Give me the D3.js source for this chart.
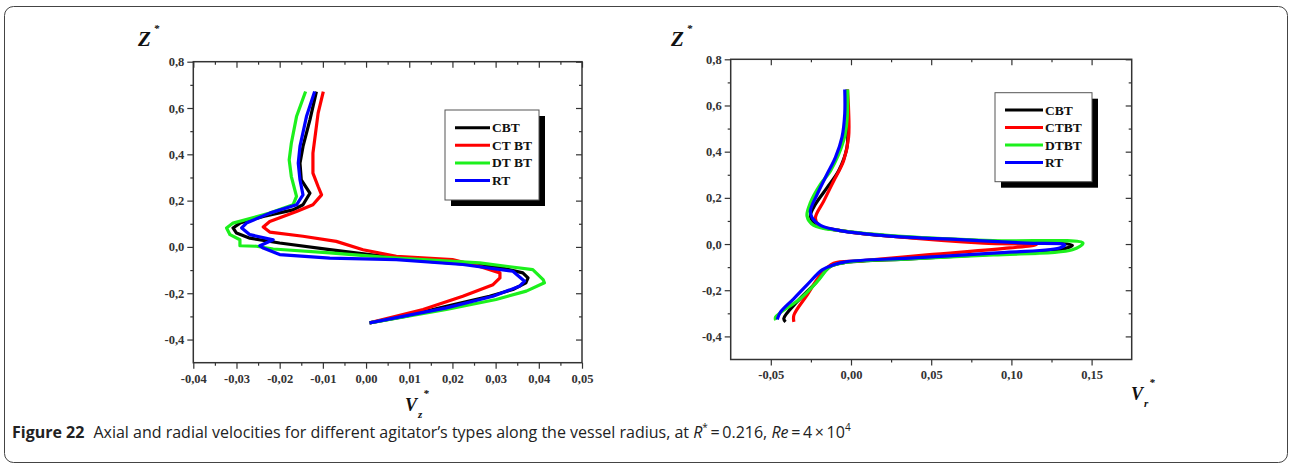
<!DOCTYPE html>
<html lang="en">
<head>
    <meta charset="utf-8">
    <script type="text/javascript" src="https://d3js.org/d3.v7.min.js"></script>
</head>
<style>
    body { margin: 0; background: #fff; }
    .tick text { font-family: "Liberation Serif", serif; font-weight: bold; font-size: 12.5px; fill: #333; }
    .tick line { stroke: #333; }
    .lg { font-family: "Liberation Serif", serif; font-weight: bold; font-size: 13.5px; fill: #111; }
</style>
<body>
<div id="chart"></div>
<script type="text/javascript">
  // series names
  const seriesNames = ["CBT", "CTBT", "DTBT", "RT"];
  const seriesColors = ["#000000", "#ff0000", "#1cf01c", "#0000ff"];
  const legendLeft = ["CBT", "CT BT", "DT BT", "RT"];
  const legendRight = ["CBT", "CTBT", "DTBT", "RT"];

  // axial velocity Vz* (left panel), pairs [Vz, Z]
  const vzCBT = [[-0.0115,0.671],[-0.013,0.549],[-0.0146,0.434],[-0.0153,0.362],[-0.015,0.29],[-0.013,0.232],[-0.0146,0.182],[-0.0169,0.16],[-0.0238,0.132],[-0.0292,0.103],[-0.0308,0.082],[-0.030,0.06],[-0.0269,0.038],[-0.020,0.017],[-0.0084,-0.012],[0.0008,-0.033],[0.0147,-0.062],[0.030,-0.084],[0.0363,-0.112],[0.0375,-0.134],[0.037,-0.155],[0.034,-0.184],[0.0286,-0.213],[0.0186,-0.256],[0.0093,-0.299],[0.0008,-0.328]];
  const vzCTBT = [[-0.0099,0.671],[-0.0111,0.578],[-0.0123,0.405],[-0.0123,0.319],[-0.0111,0.261],[-0.0103,0.225],[-0.0123,0.182],[-0.0161,0.153],[-0.0223,0.110],[-0.0238,0.086],[-0.0223,0.064],[-0.0146,0.046],[-0.0069,0.024],[-0.0007,-0.012],[0.007,-0.041],[0.020,-0.055],[0.0263,-0.084],[0.031,-0.112],[0.031,-0.134],[0.0294,-0.163],[0.0224,-0.213],[0.0132,-0.270],[0.0008,-0.328]];
  const vzDTBT = [[-0.014,0.671],[-0.0161,0.563],[-0.0173,0.448],[-0.0178,0.376],[-0.0173,0.304],[-0.0161,0.218],[-0.0169,0.182],[-0.0223,0.146],[-0.0308,0.103],[-0.0323,0.082],[-0.0315,0.053],[-0.0292,0.031],[-0.0292,0.005],[-0.0254,0.003],[-0.0215,-0.009],[-0.0084,-0.026],[0.007,-0.048],[0.0263,-0.069],[0.0386,-0.098],[0.041,-0.141],[0.0413,-0.155],[0.0371,-0.191],[0.0301,-0.227],[0.0186,-0.270],[0.0008,-0.328]];
  const vzRT = [[-0.0119,0.671],[-0.0138,0.563],[-0.0153,0.434],[-0.0157,0.362],[-0.0153,0.290],[-0.0146,0.225],[-0.0161,0.182],[-0.0223,0.146],[-0.0277,0.103],[-0.0288,0.082],[-0.0269,0.053],[-0.0215,0.031],[-0.0246,0.005],[-0.0238,-0.005],[-0.020,-0.033],[-0.0084,-0.048],[0.007,-0.055],[0.0224,-0.076],[0.034,-0.105],[0.0367,-0.148],[0.0355,-0.170],[0.0294,-0.213],[0.0186,-0.263],[0.0008,-0.328]];

  // radial velocity Vr* (right panel), pairs [Vr, Z]
  const vrCBT = [[-0.0025,0.669],[-0.0021,0.535],[-0.0025,0.419],[-0.0077,0.317],[-0.0149,0.244],[-0.0222,0.172],[-0.0253,0.121],[-0.0211,0.081],[-0.0066,0.058],[0.0265,0.033],[0.0887,0.012],[0.138,-0.006],[0.130,-0.025],[0.0887,-0.044],[0.0369,-0.064],[-0.0025,-0.079],[-0.0128,-0.097],[-0.0232,-0.177],[-0.0336,-0.250],[-0.0419,-0.323],[-0.0408,-0.337]];
  const vrCTBT = [[-0.0022,0.669],[-0.0015,0.579],[-0.0015,0.463],[-0.0046,0.361],[-0.0108,0.273],[-0.017,0.186],[-0.0222,0.113],[-0.0201,0.081],[-0.0066,0.058],[0.0265,0.033],[0.0825,0.004],[0.1156,-0.003],[0.099,-0.017],[0.0472,-0.047],[0.0058,-0.073],[-0.0108,-0.083],[-0.0191,-0.134],[-0.0274,-0.221],[-0.0356,-0.308],[-0.0356,-0.337]];
  const vrDTBT = [[-0.0021,0.669],[-0.0025,0.535],[-0.0046,0.448],[-0.0128,0.317],[-0.019,0.259],[-0.0253,0.179],[-0.0274,0.121],[-0.0232,0.081],[-0.0066,0.058],[0.0265,0.036],[0.0887,0.015],[0.1446,0.004],[0.138,-0.025],[0.0887,-0.047],[0.0369,-0.064],[-0.0025,-0.079],[-0.0128,-0.097],[-0.0211,-0.163],[-0.0315,-0.236],[-0.047,-0.316],[-0.047,-0.330]];
  const vrRT = [[-0.0039,0.669],[-0.0039,0.564],[-0.0056,0.463],[-0.0097,0.375],[-0.0149,0.303],[-0.0211,0.215],[-0.0253,0.143],[-0.0242,0.113],[-0.019,0.081],[-0.0066,0.058],[0.0265,0.033],[0.068,0.019],[0.1094,0.004],[0.1332,-0.003],[0.130,-0.017],[0.0887,-0.039],[0.0369,-0.061],[-0.0025,-0.076],[-0.0108,-0.090],[-0.018,-0.112],[-0.0274,-0.177],[-0.0356,-0.236],[-0.0439,-0.294],[-0.046,-0.327]];

  // tick values
  const zMajor = [-0.4, -0.2, 0.0, 0.2, 0.4, 0.6, 0.8];
  const zMinor = [-0.3, -0.1, 0.1, 0.3, 0.5, 0.7];
  const vzMajor = [-0.04, -0.03, -0.02, -0.01, 0.00, 0.01, 0.02, 0.03, 0.04, 0.05];
  const vzMinor = [-0.035, -0.025, -0.015, -0.005, 0.005, 0.015, 0.025, 0.035, 0.045];
  const vrMajor = [-0.05, 0.00, 0.05, 0.10, 0.15];
  const vrMinor = [-0.025, 0.025, 0.075, 0.125];

  const W = 1290, H = 465;
  const svg = d3.select("#chart").append("svg")
    .attr("width", W).attr("height", H)
    .style("font-family", "Liberation Serif, serif");

  // outer frame
  svg.append("rect")
    .attr("x", 4.5).attr("y", 6.5).attr("width", 1283).attr("height", 456)
    .attr("rx", 9).attr("fill", "none").attr("stroke", "#444").attr("stroke-width", 1);

  const comma = (v, n) => (v < -1e-9 ? "-" : "") + Math.abs(v).toFixed(n).replace(".", ",");

  function panel(opt) {
    const x = d3.scaleLinear().domain(opt.xDomain).range([opt.left, opt.right]);
    const y = d3.scaleLinear().domain([-0.5, 0.8]).range([opt.bottom, opt.top]);
    const g = svg.append("g");

    // axes: outward ticks on left and bottom
    g.append("g").attr("transform", `translate(${opt.left},0)`)
      .call(d3.axisLeft(y).tickValues(zMajor).tickSize(6).tickPadding(3).tickFormat(d => comma(d, 1)))
      .call(a => a.select(".domain").remove());
    g.append("g").attr("transform", `translate(${opt.left},0)`)
      .call(d3.axisLeft(y).tickValues(zMinor).tickSize(3).tickFormat(""))
      .call(a => a.select(".domain").remove());
    g.append("g").attr("transform", `translate(0,${opt.bottom})`)
      .call(d3.axisBottom(x).tickValues(opt.xMajor).tickSize(6).tickPadding(5).tickFormat(d => comma(d, 2)))
      .call(a => a.select(".domain").remove());
    g.append("g").attr("transform", `translate(0,${opt.bottom})`)
      .call(d3.axisBottom(x).tickValues(opt.xMinor).tickSize(3).tickFormat(""))
      .call(a => a.select(".domain").remove());
    // inward ticks on top and right
    g.append("g").attr("transform", `translate(${opt.right},0)`)
      .call(d3.axisRight(y).tickValues(zMajor).tickSize(-6).tickFormat(""))
      .call(a => a.select(".domain").remove());
    g.append("g").attr("transform", `translate(${opt.right},0)`)
      .call(d3.axisRight(y).tickValues(zMinor).tickSize(-3).tickFormat(""))
      .call(a => a.select(".domain").remove());
    g.append("g").attr("transform", `translate(0,${opt.top})`)
      .call(d3.axisTop(x).tickValues(opt.xMajor).tickSize(-6).tickFormat(""))
      .call(a => a.select(".domain").remove());
    g.append("g").attr("transform", `translate(0,${opt.top})`)
      .call(d3.axisTop(x).tickValues(opt.xMinor).tickSize(-3).tickFormat(""))
      .call(a => a.select(".domain").remove());

    g.selectAll(".tick line").attr("stroke", "#333").attr("stroke-width", 1.2);

    g.append("rect")
      .attr("x", opt.left).attr("y", opt.top)
      .attr("width", opt.right - opt.left).attr("height", opt.bottom - opt.top)
      .attr("fill", "none").attr("stroke", "#333").attr("stroke-width", 1.5);

    // curves
    const line = d3.line().x(d => x(d[0])).y(d => y(d[1])).curve(opt.curve);
    opt.series.forEach((s, i) => {
      g.append("path").datum(s)
        .attr("fill", "none")
        .attr("stroke", seriesColors[i])
        .attr("stroke-width", 3.2)
        .attr("stroke-linejoin", "round")
        .attr("d", line);
    });

    // legend
    const L = opt.legend;
    g.append("rect").attr("x", L.x + 6).attr("y", L.y + 6).attr("width", L.w).attr("height", L.h).attr("fill", "#000");
    g.append("rect").attr("x", L.x).attr("y", L.y).attr("width", L.w).attr("height", L.h)
      .attr("fill", "#fff").attr("stroke", "#555").attr("stroke-width", 1);
    L.labels.forEach((t, i) => {
      const yy = L.y + L.first + i * L.step;
      g.append("line").attr("x1", L.x + 10).attr("x2", L.x + 10 + L.len)
        .attr("y1", yy).attr("y2", yy)
        .attr("stroke", seriesColors[i]).attr("stroke-width", 3);
      g.append("text").attr("class", "lg")
        .attr("x", L.x + 12 + L.len).attr("y", yy + 4.5).text(t);
    });

    return {x, y};
  }

  panel({
    left: 193.3, right: 582, top: 61.7, bottom: 362.7,
    xDomain: [-0.04, 0.05], xMajor: vzMajor, xMinor: vzMinor,
    series: [vzCBT, vzCTBT, vzDTBT, vzRT],
    curve: d3.curveLinear,
    legend: {x: 445, y: 110, w: 94, h: 90, first: 17.7, step: 17.6, len: 35, labels: legendLeft}
  });

  panel({
    left: 730.7, right: 1131.7, top: 59.3, bottom: 359.5,
    xDomain: [-0.075, 0.175], xMajor: vrMajor, xMinor: vrMinor,
    series: [vrCBT, vrCTBT, vrDTBT, vrRT],
    curve: d3.curveCatmullRom.alpha(0.5),
    legend: {x: 995, y: 92.7, w: 97, h: 89, first: 17.3, step: 17.5, len: 38, labels: legendRight}
  });

  // axis titles
  function zTitle(x0) {
    const t = svg.append("text").attr("x", x0).attr("y", 46)
      .attr("font-family", "Liberation Serif, serif").attr("font-weight", "bold")
      .attr("font-style", "italic").attr("font-size", 21).attr("fill", "#111");
    t.append("tspan").text("Z");
    t.append("tspan").attr("font-size", 11).attr("dx", 3).attr("dy", -14).text("*");
  }
  zTitle(138);
  zTitle(671);

  function vTitle(x0, y0, sub) {
    const t = svg.append("text").attr("x", x0).attr("y", y0)
      .attr("font-family", "Liberation Serif, serif").attr("font-weight", "bold")
      .attr("font-style", "italic").attr("font-size", 18).attr("fill", "#111");
    t.append("tspan").text("V");
    t.append("tspan").attr("font-size", 11).attr("dx", 1).attr("dy", 7).text(sub);
    t.append("tspan").attr("font-size", 11).attr("dx", 1).attr("dy", -21).text("*");
  }
  vTitle(405, 411, "z");
  vTitle(1131, 400, "r");

  // caption
  const cap = svg.append("text").attr("x", 12).attr("y", 438)
    .attr("font-family", "Open Sans, Noto Sans, sans-serif").attr("font-size", 16).attr("fill", "#222");
  cap.append("tspan").attr("font-weight", "bold").text("Figure 22");
  cap.append("tspan").attr("dx", 9).text("Axial and radial velocities for different agitator\u2019s types along the vessel radius, at ");
  cap.append("tspan").attr("font-style", "italic").text("R");
  cap.append("tspan").attr("font-size", 10).attr("dy", -7).text("*");
  cap.append("tspan").attr("dy", 7).text("\u2009=\u20090.216, ");
  cap.append("tspan").attr("font-style", "italic").text("Re");
  cap.append("tspan").text("\u2009=\u20094\u2009\u00d7\u200910");
  cap.append("tspan").attr("font-size", 10).attr("dy", -7).text("4");
</script>
</body>
</html>
